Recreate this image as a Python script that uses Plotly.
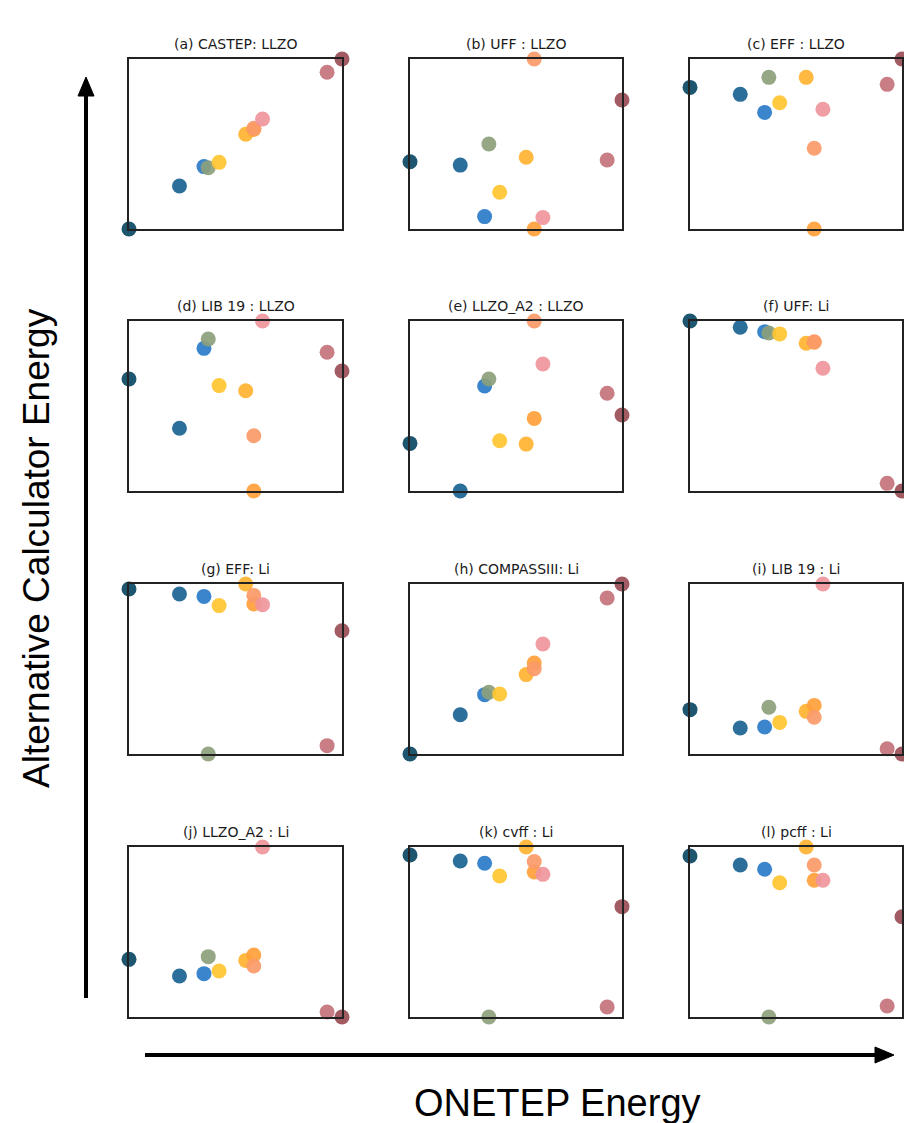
import plotly.graph_objects as go

# Shared ONETEP energy (normalised) for the 11 structures
onetep_x = [0.0, 0.237, 0.352, 0.372, 0.423, 0.548, 0.586, 0.586, 0.627, 0.930, 1.0]
point_colors = ["#0a4862", "#1b6392", "#2a7bc8", "#8c9f7b", "#ffc630", "#ffb230",
                "#ff9f3a", "#fb9a68", "#f0959c", "#c3737a", "#9a4d55"]

titles = ["(a) CASTEP: LLZO", "(b) UFF : LLZO", "(c) EFF : LLZO",
          "(d) LIB 19 : LLZO", "(e) LLZO_A2 : LLZO", "(f) UFF: Li",
          "(g) EFF: Li", "(h) COMPASSIII: Li", "(i) LIB 19 : Li",
          "(j) LLZO_A2 : Li", "(k) cvff : Li", "(l) pcff : Li"]

y_a = [0.0, 0.253, 0.367, 0.361, 0.392, 0.557, 0.585, 0.592, 0.647, 0.922, 1.0]
y_b = [0.396, 0.376, 0.073, 0.500, 0.216, 0.422, 0.0, 1.0, 0.067, 0.406, 0.759]
y_c = [0.833, 0.792, 0.686, 0.892, 0.743, 0.892, 0.0, 0.475, 0.704, 0.851, 1.0]
y_d = [0.659, 0.369, 0.839, 0.894, 0.620, 0.590, 0.0, 0.325, 1.0, 0.816, 0.706]
y_e = [0.280, 0.0, 0.618, 0.659, 0.296, 0.276, 0.427, 1.0, 0.747, 0.575, 0.447]
y_f = [1.0, 0.963, 0.937, 0.929, 0.924, 0.869, 0.875, 0.878, 0.722, 0.045, 0.0]
y_g = [0.971, 0.941, 0.927, 0.0, 0.873, 1.0, 0.882, 0.933, 0.878, 0.049, 0.725]
y_h = [0.0, 0.231, 0.349, 0.363, 0.353, 0.467, 0.535, 0.502, 0.647, 0.918, 1.0]
y_i = [0.261, 0.153, 0.159, 0.275, 0.186, 0.251, 0.286, 0.216, 1.0, 0.031, 0.0]
y_j = [0.339, 0.241, 0.255, 0.355, 0.271, 0.333, 0.365, 0.300, 1.0, 0.029, 0.0]
y_k = [0.953, 0.918, 0.904, 0.0, 0.829, 1.0, 0.853, 0.914, 0.839, 0.059, 0.649]
y_l = [0.947, 0.894, 0.869, 0.0, 0.790, 1.0, 0.804, 0.894, 0.804, 0.065, 0.590]
panel_y = [y_a, y_b, y_c, y_d, y_e, y_f, y_g, y_h, y_i, y_j, y_k, y_l]

W, H = 904, 1123
col_px = [(129, 342), (410, 622), (690, 902)]
row_px = [(59, 229), (321, 491), (584, 754), (847, 1017)]

fig = go.Figure()
layout = dict(width=W, height=H, margin=dict(l=0, r=0, t=0, b=0),
              paper_bgcolor="white", plot_bgcolor="white", showlegend=False)
annotations = []
for i, (t, ys) in enumerate(zip(titles, panel_y)):
    r, c = divmod(i, 3)
    n = i + 1
    xs = "x" if n == 1 else f"x{n}"
    yk = "y" if n == 1 else f"y{n}"
    fig.add_trace(go.Scatter(x=onetep_x, y=ys, mode="markers", xaxis=xs, yaxis=yk,
                             cliponaxis=False, hoverinfo="skip",
                             marker=dict(size=15, color=point_colors, opacity=0.92,
                                         line=dict(width=0))))
    x0, x1 = col_px[c]
    y0, y1 = row_px[r]
    ax = dict(domain=[x0 / W, x1 / W], range=[0, 1], showline=True, mirror=True,
              linecolor="#222222", linewidth=1.6, showticklabels=False, ticks="",
              showgrid=False, zeroline=False, fixedrange=True)
    ay = dict(domain=[1 - y1 / H, 1 - y0 / H], range=[0, 1], showline=True, mirror=True,
              linecolor="#222222", linewidth=1.6, showticklabels=False, ticks="",
              showgrid=False, zeroline=False, fixedrange=True)
    ax["anchor"] = yk
    ay["anchor"] = xs
    layout["xaxis" if n == 1 else f"xaxis{n}"] = ax
    layout["yaxis" if n == 1 else f"yaxis{n}"] = ay
    annotations.append(dict(text=t, x=(x0 + x1) / 2 / W, y=1 - (y0 - 15) / H,
                            xref="paper", yref="paper", showarrow=False,
                            xanchor="center", yanchor="middle",
                            font=dict(family="DejaVu Sans", size=14, color="#1a1a1a")))

annotations.append(dict(text="Alternative Calculator Energy", x=36 / W, y=1 - 548 / H,
                        xref="paper", yref="paper", showarrow=False, textangle=-90,
                        xanchor="center", yanchor="middle",
                        font=dict(family="Liberation Sans", size=37, color="black")))
annotations.append(dict(text="ONETEP Energy", x=557 / W, y=1 - 1103 / H,
                        xref="paper", yref="paper", showarrow=False,
                        xanchor="center", yanchor="middle",
                        font=dict(family="Liberation Sans", size=38, color="black")))
layout["annotations"] = annotations

def px(xp):
    return xp / W

def py(yp):
    return 1 - yp / H

shapes = [
    dict(type="line", xref="paper", yref="paper", x0=px(86), x1=px(86),
         y0=py(998), y1=py(95), line=dict(color="black", width=4)),
    dict(type="path", xref="paper", yref="paper",
         path=f"M {px(78)},{py(96)} L {px(94)},{py(96)} L {px(86)},{py(77)} Z",
         fillcolor="black", line=dict(color="black", width=1)),
    dict(type="line", xref="paper", yref="paper", x0=px(145), x1=px(876),
         y0=py(1055), y1=py(1055), line=dict(color="black", width=4)),
    dict(type="path", xref="paper", yref="paper",
         path=f"M {px(875)},{py(1047)} L {px(875)},{py(1063)} L {px(894)},{py(1055)} Z",
         fillcolor="black", line=dict(color="black", width=1)),
]
layout["shapes"] = shapes
fig.update_layout(**layout)
fig.write_html("out.html")
